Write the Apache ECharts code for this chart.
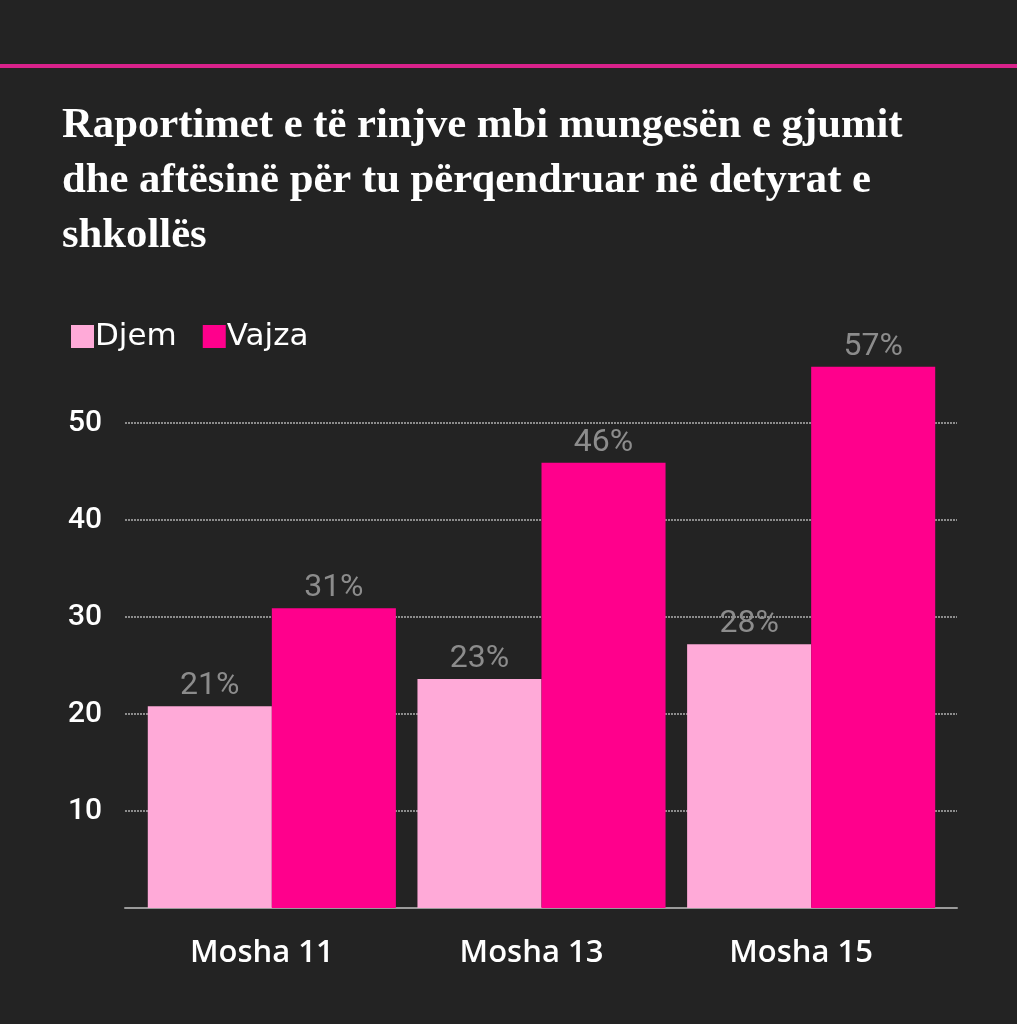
<!DOCTYPE html>
<html>
<head>
<meta charset="utf-8">
<script src="https://cdn.jsdelivr.net/npm/echarts@6/dist/echarts.min.js"></script>
<style>
html,body{margin:0;padding:0;background:#232323;}
#chart{width:1017px;height:1024px;}
</style>
</head>
<body>
<div id="chart"></div>
<script>
const titleText = "Raportimet e të rinjve mbi mungesën e gjumit\ndhe aftësinë për tu përqendruar në detyrat e\nshkollës";
const categories = ["Mosha 11", "Mosha 13", "Mosha 15"];
const seriesNames = ["Djem", "Vajza"];
const djemValues = [20.8, 23.6, 27.2];
const vajzaValues = [30.9, 45.9, 55.8];
const djemLabels = ["21%", "23%", "28%"];
const vajzaLabels = ["31%", "46%", "57%"];
const yTicks = [10, 20, 30, 40, 50];

const chart = echarts.init(document.getElementById('chart'), null, {renderer: 'canvas'});
const labelStyle = (labels) => ({
  show: true,
  position: 'top',
  distance: 4,
  color: '#8c8c8c',
  fontFamily: 'Roboto',
  fontSize: 32,
  formatter: p => labels[p.dataIndex]
});
chart.setOption({
  backgroundColor: '#232323',
  animation: false,
  graphic: [{
    type: 'rect',
    shape: {x: 0, y: 64, width: 1017, height: 4},
    style: {fill: '#d9228b'}
  }],
  title: {
    text: titleText,
    left: 57,
    top: 93,
    textStyle: {
      color: '#ffffff',
      fontFamily: 'Liberation Serif',
      fontWeight: 'bold',
      fontSize: 42.7,
      lineHeight: 55
    }
  },
  legend: {
    data: seriesNames,
    left: 66,
    top: 316,
    icon: 'rect',
    itemWidth: 23,
    itemHeight: 23,
    itemGap: 26,
    textStyle: {color: '#ffffff', fontFamily: 'DejaVu Sans', fontSize: 31, padding: [0, 0, 0, -4]}
  },
  grid: [
    {left: 125, right: 60, top: 326, bottom: 116, containLabel: false},
    {left: 137, right: 71, top: 326, bottom: 116, containLabel: false}
  ],
  xAxis: [
    {
      type: 'category', gridIndex: 0, data: categories,
      axisLine: {show: true, lineStyle: {color: '#9a9a9a', width: 2}},
      axisTick: {show: false},
      axisLabel: {show: false}
    },
    {
      type: 'category', gridIndex: 1, data: categories,
      axisLine: {show: false},
      axisTick: {show: false},
      axisLabel: {color: '#ffffff', fontFamily: 'Open Sans', fontWeight: 600, fontSize: 31, margin: 30, padding: [0, 20, 0, 0]}
    }
  ],
  yAxis: [
    {
      type: 'value', gridIndex: 0, min: 0, max: 60, interval: 10,
      axisLine: {show: false},
      axisTick: {show: false},
      axisLabel: {
        color: '#ffffff', fontFamily: 'Roboto', fontWeight: 500, fontSize: 30, margin: 23,
        showMinLabel: false, showMaxLabel: false,
        formatter: v => yTicks.includes(v) ? String(v) : ''
      },
      splitLine: {show: true, showMinLine: false, showMaxLine: false, lineStyle: {color: '#b0b0b0', type: [2, 1], width: 1.5}}
    },
    {
      type: 'value', gridIndex: 1, min: 0, max: 60, interval: 10,
      axisLine: {show: false}, axisTick: {show: false}, axisLabel: {show: false}, splitLine: {show: false}
    }
  ],
  series: [
    {name: seriesNames[0], type: 'bar', xAxisIndex: 1, yAxisIndex: 1, data: djemValues, barGap: '0%', barCategoryGap: '8%',
     itemStyle: {color: '#ffaad8'}, label: labelStyle(djemLabels)},
    {name: seriesNames[1], type: 'bar', xAxisIndex: 1, yAxisIndex: 1, data: vajzaValues,
     itemStyle: {color: '#ff008c'}, label: labelStyle(vajzaLabels)}
  ]
});
</script>
</body>
</html>
